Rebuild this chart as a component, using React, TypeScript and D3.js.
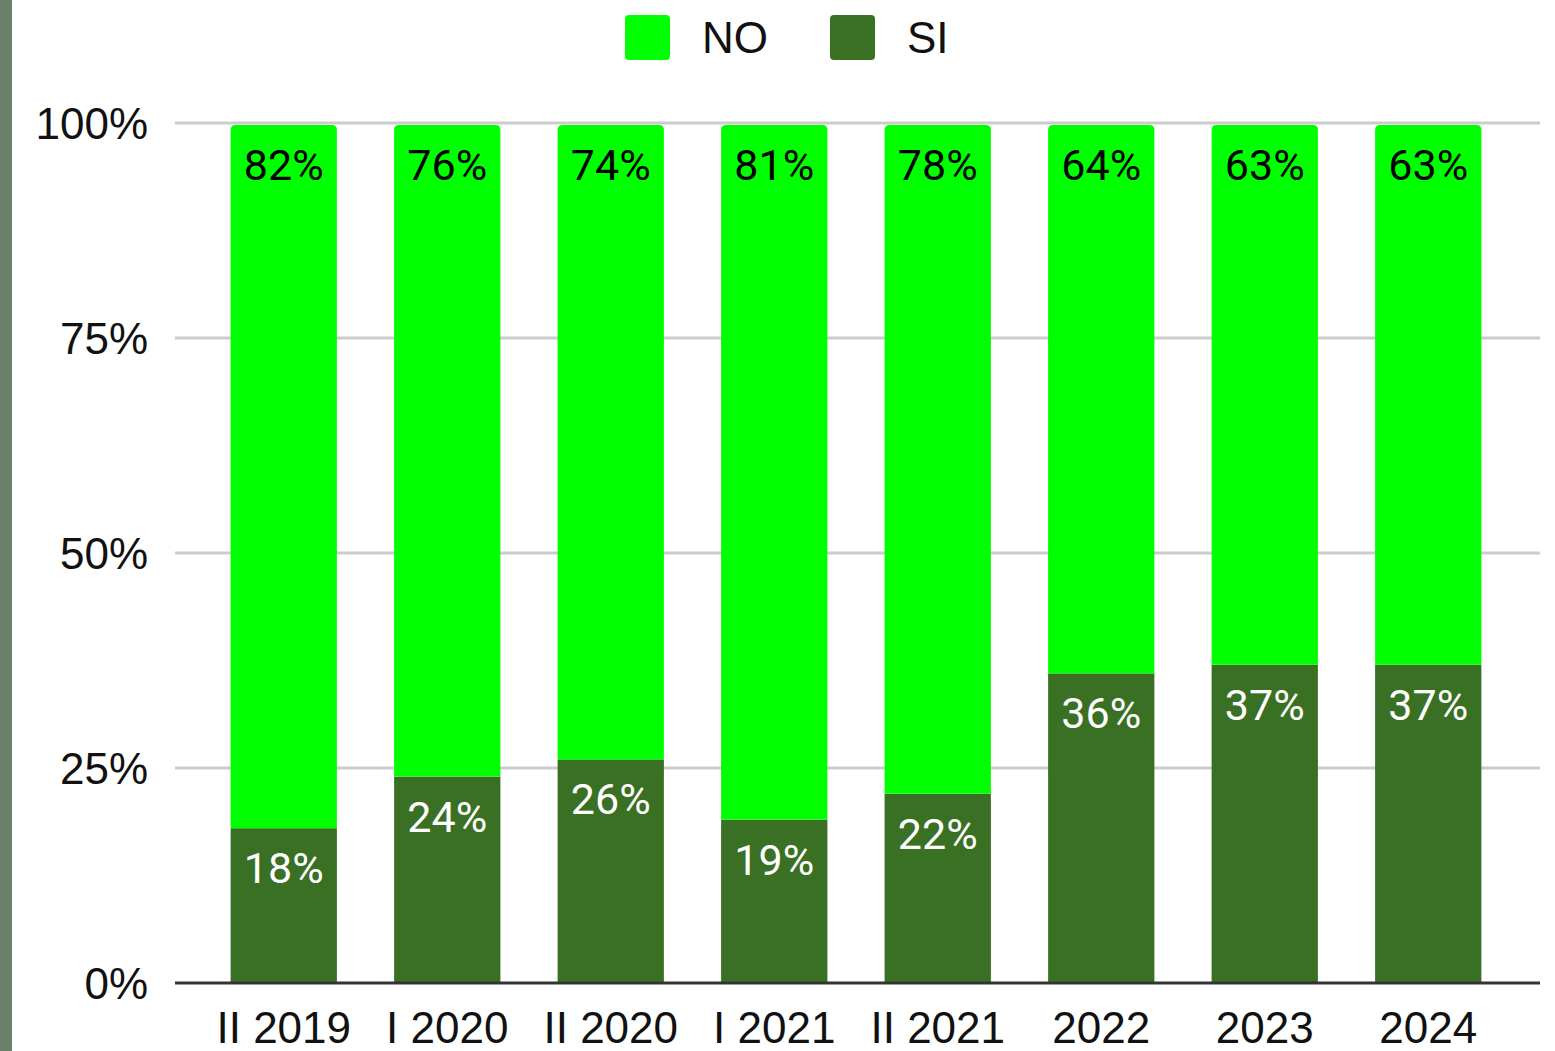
import React from "react";
import * as d3 from "d3";

const categories = ["II 2019", "I 2020", "II 2020", "I 2021", "II 2021", "2022", "2023", "2024"];
const siValues = [18, 24, 26, 19, 22, 36, 37, 37];
const noValues = [82, 76, 74, 81, 78, 64, 63, 63];
const yTicks = [0, 25, 50, 75, 100];
const seriesNames = ["NO", "SI"];

const W = 1555;
const H = 1051;
const NO_COLOR = "#00ff00";
const SI_COLOR = "#3a7023";

export default function App() {
  const x = d3.scaleBand<string>().domain(categories).range([202, 1510]).paddingInner(0.35).paddingOuter(0.175);
  const y = d3.scaleLinear().domain([0, 100]).range([983, 123]);
  const bw = x.bandwidth();
  const axisFont = "Liberation Sans, Arial, sans-serif";
  const labelFont = "Roboto, sans-serif";

  const topPath = (x0: number, y0: number, w: number, y1: number, r: number) =>
    `M${x0},${y1} L${x0},${y0 + r} Q${x0},${y0} ${x0 + r},${y0} L${x0 + w - r},${y0} Q${x0 + w},${y0} ${x0 + w},${y0 + r} L${x0 + w},${y1} Z`;

  return (
    <div style={{ position: "absolute", left: 0, top: 0, width: W, height: H, overflow: "hidden", background: "#fff" }}>
      <svg width={W} height={H} style={{ display: "block" }}>
        <rect x={0} y={0} width={W} height={H} fill="#fff" />
        <rect x={0} y={0} width={12} height={H} fill="#6b8068" />
        {yTicks.map((t) => (
          <g key={t}>
            {t > 0 && <line x1={175} x2={1540} y1={y(t)} y2={y(t)} stroke="#cccccc" strokeWidth={3} />}
            <text x={148} y={y(t) + 16} textAnchor="end" fontFamily={axisFont} fontSize={44} fill="#111">
              {t}%
            </text>
          </g>
        ))}
        {categories.map((c, i) => {
          const x0 = x(c)!;
          const si = siValues[i];
          const no = noValues[i];
          const ySi = y(si);
          const yTop = y(si + no) + 2;
          return (
            <g key={c}>
              <rect x={x0} y={ySi} width={bw} height={y(0) - ySi} fill={SI_COLOR} />
              <path d={topPath(x0, yTop, bw, ySi, 5)} fill={NO_COLOR} />
              <text x={x0 + bw / 2} y={yTop + 55} textAnchor="middle" fontFamily={labelFont} fontWeight={400} fontSize={43} fill="#000">
                {no}%
              </text>
              <text x={x0 + bw / 2} y={ySi + 55} textAnchor="middle" fontFamily={labelFont} fontWeight={400} fontSize={43} fill="#fff">
                {si}%
              </text>
              <text x={x0 + bw / 2} y={1043} textAnchor="middle" fontFamily={axisFont} fontSize={44} fill="#111">
                {c}
              </text>
            </g>
          );
        })}
        <line x1={175} x2={1540} y1={y(0)} y2={y(0)} stroke="#333" strokeWidth={3} />
        {seriesNames.map((s, i) => {
          const lx = i === 0 ? 625 : 830;
          return (
            <g key={s}>
              <rect x={lx} y={15} width={45} height={45} rx={4} fill={i === 0 ? NO_COLOR : SI_COLOR} />
              <text x={lx + 77} y={53} fontFamily={axisFont} fontSize={44} fill="#111">
                {s}
              </text>
            </g>
          );
        })}
      </svg>
    </div>
  );
}
